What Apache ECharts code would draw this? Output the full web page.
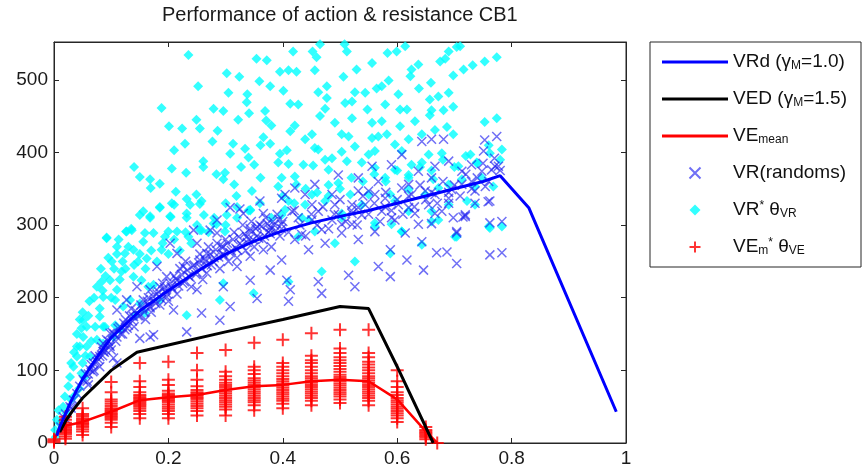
<!DOCTYPE html>
<html>
<head>
<meta charset="utf-8">
<title>Performance of action & resistance CB1</title>
<script src="https://cdn.jsdelivr.net/npm/echarts@6/dist/echarts.min.js"></script>
<style>
  html, body { margin: 0; padding: 0; background: #fff; }
  #container { width: 865px; height: 471px; }
</style>
</head>
<body>
<div id="container"></div>
<script>
// ---- lines ----
const vrdX = [0.005, 0.01, 0.02, 0.03, 0.05, 0.075, 0.1, 0.15, 0.2, 0.25, 0.3, 0.35, 0.4, 0.45, 0.5, 0.55, 0.6, 0.65, 0.7, 0.75, 0.78, 0.83, 0.983];
const vrdY = [10, 22, 40, 58, 88, 118, 145, 182, 210, 236, 260, 278, 292, 303, 312, 320, 330, 340, 350, 360, 368, 324, 43];

const vedX = [0.01, 0.02, 0.033, 0.05, 0.1, 0.145, 0.2, 0.3, 0.4, 0.5, 0.55, 0.6, 0.663];
const vedY = [15, 30, 45, 62, 100, 125, 135, 153, 170, 188, 185, 105, 0];

const veMeanX = [0, 0.01, 0.05, 0.1, 0.15, 0.2, 0.25, 0.3, 0.35, 0.4, 0.45, 0.5, 0.55, 0.6, 0.65, 0.67];
const veMeanY = [3, 22, 29, 43, 59, 63, 66, 73, 78, 80, 85, 87, 85, 60, 16, 0];

// ---- VEm* thetaVE : values at each x step ----
const veStepX = [0, 0.02, 0.05, 0.1, 0.15, 0.2, 0.25, 0.3, 0.35, 0.4, 0.45, 0.5, 0.55, 0.6, 0.65, 0.67];
const veStepVals = [
  [1, 3, 5],
  [6, 9, 12, 14, 16, 18, 20, 22, 25, 28, 32, 36],
  [11, 16, 19, 22, 24, 26, 28, 30, 32, 34, 37, 40, 48],
  [22, 28, 32, 34, 36, 38, 40, 42, 44, 46, 48, 51, 54, 57, 60, 70, 84],
  [34, 40, 44, 47, 50, 52, 54, 56, 58, 60, 62, 64, 66, 70, 77, 85, 110],
  [34, 40, 44, 47, 50, 53, 56, 58, 60, 62, 64, 66, 68, 72, 80, 87, 112],
  [38, 44, 48, 51, 54, 57, 60, 62, 64, 66, 68, 70, 73, 78, 87, 100, 124],
  [38, 46, 50, 53, 56, 59, 62, 65, 68, 71, 74, 77, 80, 83, 87, 92, 98, 128],
  [45, 52, 56, 59, 62, 65, 68, 71, 74, 77, 80, 83, 86, 89, 95, 100, 105, 138],
  [48, 54, 58, 61, 64, 67, 70, 73, 76, 79, 82, 85, 88, 92, 96, 100, 105, 110, 142],
  [52, 58, 62, 65, 68, 71, 74, 77, 80, 83, 86, 89, 92, 96, 100, 105, 110, 114, 120, 151],
  [55, 60, 64, 67, 70, 73, 76, 79, 82, 85, 88, 91, 94, 98, 102, 106, 110, 114, 118, 124, 130, 156],
  [52, 58, 62, 65, 68, 71, 74, 77, 80, 83, 86, 89, 92, 96, 100, 104, 108, 112, 118, 124, 156],
  [29, 34, 38, 41, 44, 47, 50, 53, 56, 59, 62, 66, 70, 77, 85, 100],
  [5, 8, 10, 12, 14, 16, 18, 22],
  [0]
];

// ---- VR* thetaVR (cyan diamonds) ----
const vrStarPts = [
  [0.235,534],[0.354,529],[0.372,527],[0.302,509],[0.324,504],[0.359,498],[0.252,491],[0.378,491],[0.305,482],[0.338,480],
  [0.337,469],[0.188,461],[0.279,460],[0.296,457],[0.369,457],[0.341,454],[0.249,445],[0.322,445],[0.371,444],[0.201,436],
  [0.224,433],[0.255,433],[0.286,430],[0.380,437],[0.366,421],[0.229,412],[0.277,415],[0.313,412],[0.210,403],[0.334,405],
  [0.361,410],[0.378,412],[0.308,398],[0.395,398],[0.340,393],[0.140,380],[0.206,378],[0.261,388],[0.261,380],[0.231,372],
  [0.284,370],[0.299,372],[0.327,380],[0.350,383],[0.150,366],[0.168,363],[0.185,357],[0.169,351],[0.296,363],[0.315,356],
  [0.361,365],[0.213,346],[0.249,342],[0.232,336],[0.258,333],[0.210,328],[0.300,330],[0.185,324],[0.319,340],[0.346,347],
  [0.156,319],[0.204,311],[0.262,314],[0.168,310],[0.135,295],[0.126,291],[0.159,289],[0.232,310],[0.284,301],[0.200,291],
  [0.258,293],[0.299,291],[0.343,320],[0.092,283],
  [0.418,539],[0.452,539],[0.465,549],[0.508,549],[0.512,539],[0.459,531],[0.583,537],[0.599,539],[0.614,546],[0.690,539],
  [0.704,545],[0.710,546],[0.684,529],[0.675,525],[0.774,531],[0.753,525],[0.732,520],[0.716,514],[0.698,506],[0.637,521],
  [0.625,514],[0.623,505],[0.395,511],[0.410,513],[0.424,511],[0.456,513],[0.529,514],[0.556,523],[0.506,504],[0.585,499],
  [0.573,491],[0.564,488],[0.401,485],[0.462,483],[0.477,491],[0.526,483],[0.544,482],[0.602,480],[0.638,488],[0.659,496],
  [0.657,473],[0.672,477],[0.690,482],[0.413,467],[0.427,466],[0.477,475],[0.509,468],[0.521,470],[0.579,466],[0.548,459],
  [0.474,460],[0.465,450],[0.605,459],[0.617,459],[0.660,458],[0.681,458],[0.698,463],[0.491,441],[0.521,447],[0.556,441],
  [0.573,443],[0.631,443],[0.605,436],[0.657,451],[0.666,431],[0.687,435],[0.753,442],[0.774,447],[0.421,437],[0.413,429],
  [0.451,425],[0.503,425],[0.515,422],[0.556,420],[0.567,422],[0.582,425],[0.439,418],[0.620,418],[0.643,425],[0.698,425],
  [0.407,403],[0.456,406],[0.462,404],[0.526,408],[0.503,401],[0.486,392],[0.550,397],[0.561,402],[0.596,411],[0.608,402],
  [0.655,397],[0.678,399],[0.728,397],[0.783,404],[0.762,399],[0.392,386],[0.410,384],[0.436,383],[0.453,382],[0.474,390],
  [0.512,388],[0.538,386],[0.561,379],[0.625,383],[0.643,386],[0.707,381],[0.739,386],[0.398,365],[0.421,367],[0.480,376],
  [0.497,358],[0.579,365],[0.596,376],[0.620,369],[0.663,363],[0.713,363],[0.748,365],[0.392,353],[0.424,356],[0.451,342],
  [0.480,340],[0.518,342],[0.550,342],[0.588,342],[0.620,349],[0.649,342],[0.672,351],[0.690,356],[0.736,353],[0.768,353],
  [0.410,333],[0.439,328],[0.474,333],[0.538,328],[0.596,333],[0.620,319],[0.660,319],[0.690,328],[0.722,333],[0.398,314],
  [0.433,310],[0.503,310],[0.561,303],[0.590,301],[0.660,305],[0.760,298],[0.783,298],[0.608,291],[0.456,291],
  [0.185,325],[0.206,330],[0.238,328],[0.255,329],[0.150,314],[0.168,312],[0.203,312],[0.232,316],[0.092,282],[0.113,280],
  [0.127,291],[0.136,293],[0.156,277],[0.174,289],[0.194,284],[0.215,291],[0.235,284],[0.255,293],[0.279,302],[0.302,314],
  [0.110,270],[0.124,261],[0.139,266],[0.147,250],[0.162,254],[0.188,266],[0.101,250],[0.083,222],[0.098,224],[0.110,211],
  [0.118,236],[0.139,229],[0.153,224],[0.165,215],[0.174,218],[0.086,201],[0.107,197],[0.121,188],[0.133,197],[0.150,192],
  [0.185,197],[0.051,169],[0.048,158],[0.080,174],[0.089,160],[0.107,162],[0.142,176],[0.159,179],[0.115,156],[0.104,146],
  [0.057,133],[0.040,133],[0.086,137],[0.232,176],[0.290,197],[0.296,220],[0.349,206],[0.343,321],[0.320,325],
  [0.002,18],[0.005,32],[0.010,27],[0.016,50],[0.019,64],[0.022,41],[0.025,78],[0.028,91],[0.034,105],[0.037,66],
  [0.040,119],[0.045,133],[0.048,96],[0.051,146],[0.057,160],[0.063,119],[0.075,142],[0.086,160],[0.003,8],[0.008,45],
  [0.030,60],[0.044,75],[0.050,110],[0.053,90],
  [0.410,222],[0.468,236],[0.526,250],[0.588,261],[0.643,273],[0.704,284],[0.762,296],[0.404,321],[0.445,307],[0.503,316],
  [0.561,298],[0.608,291],[0.672,307],[0.736,328],[0.427,284],[0.491,275],[0.701,284],
  [0.030,110],[0.035,125],[0.040,150],[0.045,170],[0.050,180],[0.055,120],[0.060,175],[0.062,195],[0.065,140],[0.070,200],
  [0.072,160],[0.075,215],[0.080,185],[0.082,240],[0.085,210],[0.090,230],[0.095,255],[0.100,200],[0.105,240],[0.110,260],
  [0.115,225],[0.120,250],[0.125,240],[0.130,270],[0.140,245],[0.150,260],[0.160,240],[0.170,265],[0.180,250],[0.190,275],
  [0.200,260],[0.210,280],[0.220,265],[0.230,290],[0.240,275],[0.250,300],[0.270,290],[0.280,310],[0.300,300],[0.320,310],
  [0.340,320],[0.360,330],[0.380,310],[0.400,340],[0.420,330],[0.440,350],[0.460,345],[0.480,355],[0.500,350],[0.520,365],
  [0.540,360],[0.560,370],[0.580,360],[0.600,375],[0.620,365],[0.640,380],[0.660,375],[0.680,390],[0.700,380],[0.720,395],
  [0.740,385],[0.760,410],[0.780,390]
];

// ---- VR(randoms) (blue crosses) ----
const vrRandPts = [
  [0.028,50],[0.040,68],[0.051,87],[0.063,101],[0.080,119],[0.098,133],[0.110,146],[0.034,59],[0.045,78],[0.069,110],
  [0.086,126],[0.104,117],[0.110,110],[0.016,36],[0.022,32],[0.124,156],[0.150,144],[0.174,149],[0.232,153],[0.290,169],
  [0.012,22],[0.020,40],[0.030,48],[0.060,95],[0.075,112],[0.090,128],
  [0.355,199],[0.308,188],[0.258,179],[0.209,183],[0.168,146],[0.296,215],[0.343,224],[0.378,238],[0.320,243],[0.250,211],
  [0.197,201],[0.168,188],[0.139,174],[0.115,160],[0.098,151],[0.086,137],[0.215,224],[0.267,234],[0.366,266],[0.337,284],
  [0.296,270],[0.255,252],[0.226,243],[0.197,229],[0.168,211],[0.366,316],[0.331,316],[0.378,293],[0.285,289],[0.250,275],
  [0.215,261],[0.180,243],[0.145,215],[0.127,197],[0.110,183],[0.285,307],[0.244,293],[0.203,275],[0.343,257],[0.320,266],
  [0.355,298],[0.267,261],[0.185,215],[0.156,197],
  [0.360,333],[0.325,322],[0.308,324],[0.273,293],[0.378,297],[0.343,295],
  [0.643,415],[0.660,418],[0.681,418],[0.753,417],[0.774,422],[0.751,402],[0.771,381],[0.754,353],[0.762,333],[0.762,303],
  [0.783,305],[0.730,383],[0.713,374],[0.690,388],[0.666,381],[0.637,374],[0.608,397],[0.590,383],[0.556,381],[0.532,365],
  [0.497,369],[0.456,356],[0.421,351],[0.398,337],[0.416,319],[0.451,328],[0.486,342],[0.521,328],[0.550,347],[0.579,337],
  [0.620,356],[0.649,347],[0.690,337],[0.719,314],[0.704,291],[0.637,301],[0.590,310],[0.561,291],[0.503,301],[0.468,294],
  [0.433,287],[0.736,347],[0.660,365],[0.608,351],[0.567,360],[0.532,347],[0.439,342],[0.497,314],[0.538,314],[0.620,324],
  [0.678,319],[0.404,342],[0.398,301],[0.427,310],[0.462,319],[0.491,328],[0.521,301],[0.532,324],[0.561,342],[0.573,319],
  [0.602,328],[0.625,342],[0.655,328],[0.666,342],[0.695,349],[0.713,356],[0.730,360],[0.748,374],[0.765,376],[0.777,381],
  [0.410,195],[0.413,211],[0.407,224],[0.462,222],[0.468,206],[0.515,231],[0.526,215],[0.567,243],[0.588,229],[0.617,252],
  [0.646,238],[0.669,262],[0.687,263],[0.704,247],[0.704,289],[0.762,259],[0.783,262],[0.719,312],[0.643,277],[0.588,266],
  [0.759,332],[0.736,330],[0.690,330],[0.666,316],[0.631,316],[0.596,307],[0.532,280],[0.503,289],[0.474,275],[0.445,266],
  [0.421,280],[0.398,252],[0.451,307],[0.486,307],[0.521,316],[0.544,328],[0.579,325],[0.614,289],[0.660,302],[0.715,311],
  [0.698,310],
  [0.060,80],[0.070,100],[0.080,105],[0.085,120],[0.095,140],[0.100,128],[0.105,150],[0.120,150],[0.125,170],[0.130,162],
  [0.135,185],[0.140,160],[0.150,175],[0.155,185],[0.160,170],[0.165,200],[0.170,180],[0.175,195],[0.180,205],[0.185,190],
  [0.190,220],[0.195,210],[0.200,195],[0.205,215],[0.210,230],[0.215,205],[0.220,240],[0.225,220],[0.230,250],[0.235,230],
  [0.240,215],[0.245,245],[0.250,235],[0.255,260],[0.260,225],[0.265,250],[0.270,270],[0.275,245],[0.280,255],[0.285,275],
  [0.290,240],[0.295,260],[0.300,280],[0.305,250],[0.310,265],[0.315,290],[0.320,255],[0.325,275],[0.330,300],[0.335,265],
  [0.340,280],[0.345,305],[0.350,270],[0.355,285],[0.360,300],[0.365,280],[0.370,310],[0.375,290],[0.380,270],[0.385,300],
  [0.390,315],[0.395,285],[0.400,305],[0.410,290],[0.420,320],[0.430,300],[0.440,285],[0.450,315],[0.460,300],[0.470,325],
  [0.480,295],[0.490,315],[0.500,335],[0.510,305],[0.520,320],[0.530,300],[0.540,340],[0.550,315],[0.560,330],[0.570,305],
  [0.580,345],[0.590,320],[0.600,335],[0.610,315],[0.620,340],[0.630,325],[0.640,355],[0.650,335],[0.660,345],[0.670,330],
  [0.680,360],[0.690,345],[0.700,355],[0.710,340],[0.720,370],[0.730,350],[0.740,365],[0.750,385],[0.760,360],[0.770,392],
  [0.780,375],
  [0.055,95],[0.058,85],[0.065,108],[0.068,98],[0.072,120],[0.078,115],[0.083,132],[0.088,125],[0.092,142],[0.097,135],
  [0.102,152],[0.108,140],[0.112,158],[0.117,150],[0.122,165],[0.128,158],[0.132,175],[0.137,168],[0.142,182],[0.147,175],
  [0.152,190],[0.158,180],[0.163,195],[0.168,186],[0.173,202],[0.178,192],[0.183,208],[0.188,198],[0.193,214],[0.198,205],
  [0.203,220],[0.208,212],[0.213,226],[0.218,216],[0.223,232],[0.228,222],[0.233,238],[0.238,228],[0.243,244],[0.248,232],
  [0.253,248],[0.258,240],[0.263,254],[0.268,244],[0.273,260],[0.278,250],[0.283,266],[0.288,256],[0.293,270],[0.298,258],
  [0.303,275],[0.308,262],[0.313,280],[0.318,268],[0.323,284],[0.328,272],[0.333,288],[0.338,276],[0.343,292],[0.348,280],
  [0.353,295],[0.358,282],[0.363,298],[0.368,285],[0.373,302],[0.378,288],[0.383,305],[0.388,292],[0.393,308],[0.398,295]
];

const legendNames = ['VRd', 'VED', 'VEmean', 'VR', 'VRstar', 'VEstar'];
const legendLabels = {
  VRd: 'VRd (γ{sub|M}=1.0)',
  VED: 'VED (γ{sub|M}=1.5)',
  VEmean: 'VE{sub|mean}',
  VR: 'VR(randoms)',
  VRstar: 'VR{sup|*} θ{sub|VR}',
  VEstar: 'VE{sub|m}{sup|*} θ{sub|VE}'
};

const FONT = "'Liberation Sans', Arial, Helvetica, sans-serif";
const LINE_ICON = 'path://M0,0L66,0L66,3L0,3Z';
const X_ICON = 'path://M0,0L10,10M10,0L0,10';
const PLUS_ICON = 'path://M5,0L5,10M0,5L10,5';
const DIAMOND_ICON = 'path://M5,0L10,5L5,10L0,5Z';

const zip = (xs, ys) => xs.map((x, i) => [x, ys[i]]);
const vePlusPts = [];
veStepX.forEach((x, i) => veStepVals[i].forEach(v => vePlusPts.push([x, v])));

const axisCommon = {
  type: 'value',
  axisLine: { show: true, onZero: false, lineStyle: { color: '#262626', width: 1 } },
  axisTick: { show: true, inside: true, length: 5, lineStyle: { color: '#262626' } },
  splitLine: { show: false },
  axisLabel: { fontFamily: FONT, fontSize: 19, color: '#1a1a1a', margin: 6, showMaxLabel: true }
};

const myChart = echarts.init(document.getElementById('container'), null, { renderer: 'canvas' });

const option = {
  animation: false,
  backgroundColor: '#fff',
  title: {
    text: 'Performance of action & resistance CB1',
    left: 162,
    top: 0,
    padding: [5, 0, 0, 0],
    textStyle: { fontFamily: FONT, fontSize: 20, fontWeight: 'normal', color: '#1a1a1a' }
  },
  grid: { left: 54, right: 239, top: 42, bottom: 28, show: true, borderColor: '#262626', borderWidth: 1 },
  xAxis: [
    Object.assign({}, axisCommon, { min: 0, max: 1, interval: 0.2, position: 'bottom' }),
    Object.assign({}, axisCommon, { min: 0, max: 1, interval: 0.2, position: 'top', axisLabel: { show: false } })
  ],
  yAxis: [
    Object.assign({}, axisCommon, {
      min: 0, max: 552, interval: 100, position: 'left',
      axisLabel: Object.assign({}, axisCommon.axisLabel, { showMaxLabel: false })
    }),
    Object.assign({}, axisCommon, { min: 0, max: 552, interval: 100, position: 'right', axisLabel: { show: false } })
  ],
  legend: {
    orient: 'vertical',
    left: 650,
    top: 42,
    padding: [10, 14, 10, 12],
    borderColor: '#262626',
    borderWidth: 1,
    itemWidth: 66,
    itemHeight: 11,
    itemGap: 17,
    data: [
      { name: 'VRd', icon: LINE_ICON },
      { name: 'VED', icon: LINE_ICON },
      { name: 'VEmean', icon: LINE_ICON },
      { name: 'VR', icon: X_ICON },
      { name: 'VRstar', icon: DIAMOND_ICON },
      { name: 'VEstar', icon: PLUS_ICON }
    ],
    formatter: name => legendLabels[name],
    textStyle: {
      fontFamily: FONT, fontSize: 19, color: '#111', lineHeight: 20,
      rich: {
        sub: { fontFamily: FONT, fontSize: 12, lineHeight: 11, verticalAlign: 'bottom', color: '#111' },
        sup: { fontFamily: FONT, fontSize: 12, lineHeight: 11, verticalAlign: 'top', color: '#111' }
      }
    }
  },
  series: [
    {
      name: 'VRstar', type: 'scatter', data: vrStarPts,
      symbol: 'diamond', symbolSize: [10, 10],
      itemStyle: { color: '#00ffff' }
    },
    {
      name: 'VR', type: 'scatter', data: vrRandPts,
      symbol: X_ICON, symbolSize: 9,
      itemStyle: { color: 'none', borderColor: 'rgba(30,30,240,0.8)', borderWidth: 1.5 }
    },
    {
      name: 'VEstar', type: 'scatter', data: vePlusPts,
      symbol: PLUS_ICON, symbolSize: 13,
      itemStyle: { color: 'none', borderColor: '#ff0000', borderWidth: 2 }
    },
    {
      name: 'VEmean', type: 'line', data: zip(veMeanX, veMeanY), symbol: 'none',
      lineStyle: { color: '#ff0000', width: 2.5 }, itemStyle: { color: '#ff0000' }
    },
    {
      name: 'VED', type: 'line', data: zip(vedX, vedY), symbol: 'none',
      lineStyle: { color: '#000000', width: 3 }, itemStyle: { color: '#000000' }
    },
    {
      name: 'VRd', type: 'line', data: zip(vrdX, vrdY), symbol: 'none',
      lineStyle: { color: '#0000ff', width: 3 }, itemStyle: { color: '#0000ff' }
    }
  ]
};

myChart.setOption(option);
window.addEventListener('resize', () => myChart.resize());
</script>
</body>
</html>
